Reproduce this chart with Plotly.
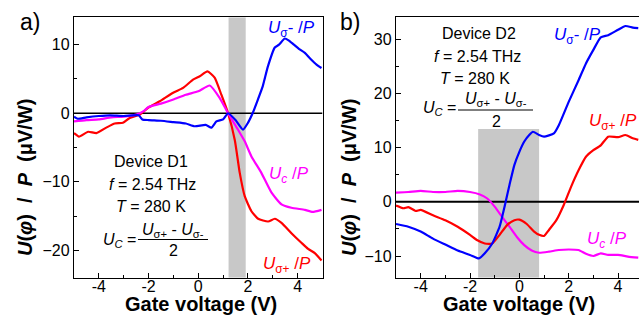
import plotly.graph_objects as go

# ---------------- data ----------------
# Panel a) Device D1
a_sm_x = [-5, -4.85, -4.5, -4.0, -3.55, -3.0, -2.4, -2.25, -2.0, -1.5, -1.0, -0.5, -0.14, 0.3, 0.53, 0.73, 1.0, 1.2, 1.5, 1.8, 2.0, 2.2, 2.4, 2.6, 2.8, 3.08, 3.25, 3.48, 3.65, 3.85, 4.05, 4.29, 4.5, 4.76, 4.96]
a_sm_y = [-0.5, -0.8, -0.6, -0.4, -0.3, -0.4, -0.3, -0.9, -1.0, -1.1, -1.3, -1.5, -1.9, -1.7, -2.1, -1.2, -0.9, 0.0, -1.0, -2.4, -1.4, 0.1, 2.0, 4.0, 6.8, 9.6, 10.0, 10.9, 10.6, 10.0, 9.4, 8.8, 8.0, 7.1, 6.6]

a_sp_x = [-5, -4.8, -4.43, -4.1, -3.7, -3.36, -3.03, -2.76, -2.35, -2.02, -1.55, -1.01, -0.61, -0.21, 0.06, 0.37, 0.66, 0.93, 1.2, 1.47, 1.67, 1.87, 2.14, 2.41, 2.81, 3.08, 3.35, 3.75, 4.15, 4.42, 4.69, 4.96]
a_sp_y = [-2.9, -3.4, -2.7, -2.9, -2.1, -1.5, -1.4, -0.7, -0.2, 0.8, 1.75, 3.0, 3.7, 4.9, 5.4, 6.1, 5.2, 2.7, 0.0, -3.9, -8.7, -12.1, -14.3, -15.4, -15.8, -15.4, -16.0, -17.5, -18.9, -19.8, -20.4, -21.5]

a_c_x = [-5, -4.5, -4, -3.5, -3, -2.5, -2.2, -2, -1.5, -1, -0.5, 0, 0.46, 0.86, 1.2, 1.6, 1.87, 2.14, 2.54, 2.95, 3.35, 3.75, 4.29, 4.6, 4.96]
a_c_y = [-1.2, -1.0, -0.9, -0.6, -0.5, -0.2, 0.3, 0.9, 1.4, 2.0, 2.7, 3.2, 4.05, 2.25, 0.0, -2.4, -4.1, -6.3, -8.7, -11.6, -13.3, -13.8, -14.1, -14.4, -14.1]

a_band = [1.22, 1.91]

# Panel b) Device D2
b_sm_x = [-5, -4.5, -4, -3.5, -3, -2.5, -2, -1.64, -1.4, -1.1, -0.8, -0.6, -0.4, -0.2, 0, 0.2, 0.4, 0.55, 0.8, 1.0, 1.4, 1.6, 2.0, 2.4, 2.7, 3.0, 3.3, 3.6, 4.0, 4.3, 4.6, 4.82]
b_sm_y = [-4.1, -4.6, -5.5, -6.8, -7.9, -9.0, -9.8, -10.45, -9.5, -7.7, -4.6, -0.9, 3.1, 6.8, 9.2, 11.1, 12.3, 12.9, 12.3, 12.0, 12.6, 14.1, 18.4, 22.4, 25.5, 28.0, 30.3, 30.7, 31.7, 32.4, 32.1, 32.0]

b_sp_x = [-5, -4.7, -4.5, -4.2, -4, -3.5, -3, -2.5, -2, -1.7, -1.4, -1.1, -0.8, -0.5, -0.2, 0, 0.3, 0.6, 0.8, 1.0, 1.2, 1.5, 1.8, 2.1, 2.4, 2.7, 3.0, 3.3, 3.6, 4.0, 4.3, 4.6, 4.82]
b_sp_y = [-0.7, -1.2, -1.0, -1.7, -1.5, -2.5, -3.4, -4.6, -6.1, -7.1, -7.7, -7.7, -6.1, -4.3, -3.4, -3.3, -4.1, -5.5, -6.1, -6.3, -5.2, -3.4, -0.6, 2.8, 5.8, 8.3, 9.5, 10.4, 12.0, 11.9, 12.3, 11.7, 11.4]

b_c_x = [-5, -4.5, -4, -3.5, -3, -2.5, -2, -1.6, -1.3, -1.0, -0.7, -0.4, -0.1, 0.2, 0.5, 0.8, 1.2, 1.6, 2.0, 2.4, 2.7, 3.0, 3.3, 3.6, 4.0, 4.4, 4.82]
b_c_y = [1.7, 1.8, 2.0, 1.8, 1.8, 2.0, 1.8, 1.35, 0.6, -0.9, -2.8, -4.6, -6.5, -8.0, -9.0, -9.4, -9.2, -8.9, -8.8, -8.9, -9.6, -10.0, -9.5, -9.8, -9.8, -10.1, -10.3]

b_band_x = [-1.67, 0.8]
b_band_top = 13.4

x_ticks = [-4, -2, 0, 2, 4]
x_tick_text = ["-4", "-2", "0", "2", "4"]
a_y_ticks = [-20, -10, 0, 10]
b_y_ticks = [-10, 0, 10, 20, 30]

# ---------------- figure ----------------
W, H = 639, 322
BLUE, RED, MAG = "#0000ff", "#ff0000", "#ff00ff"
FONT = "Liberation Sans, Arial, sans-serif"

def px(x):
    return x / W

def py(y):
    return 1 - y / H

fig = go.Figure()
lw = 2.2
for xs, ys, c in [(a_sp_x, a_sp_y, RED), (a_c_x, a_c_y, MAG), (a_sm_x, a_sm_y, BLUE)]:
    fig.add_trace(go.Scatter(x=xs, y=ys, mode="lines", line=dict(color=c, width=lw, shape="spline", smoothing=0.5),
                             xaxis="x", yaxis="y", showlegend=False))
for xs, ys, c in [(b_c_x, b_c_y, MAG), (b_sp_x, b_sp_y, RED), (b_sm_x, b_sm_y, BLUE)]:
    fig.add_trace(go.Scatter(x=xs, y=ys, mode="lines", line=dict(color=c, width=lw, shape="spline", smoothing=0.5),
                             xaxis="x2", yaxis="y2", showlegend=False))

ydom = [1 - 277.7 / H, 1 - 17.3 / H]
tickfont = dict(family=FONT, size=16, color="black")
axis_common = dict(showgrid=False, zeroline=False, showline=True, linecolor="black", linewidth=1.3,
                   ticks="inside", ticklen=5, tickwidth=1.2, tickcolor="black", tickfont=tickfont)
minor_x = dict(ticks="inside", dtick=1, ticklen=3, tickwidth=1.2, tickcolor="black")
minor_y = dict(ticks="inside", dtick=5, ticklen=3, tickwidth=1.2, tickcolor="black")
xdom_a = [px(74), px(322.5)]
xdom_b = [px(396), 1.0]
label_pos = py(274.5)   # free axes carrying the x tick labels, a bit closer to the plot

fig.update_layout(
    width=W, height=H, margin=dict(l=0, r=0, t=0, b=0),
    paper_bgcolor="white", plot_bgcolor="white",
    xaxis=dict(domain=xdom_a, range=[-5, 5], tickvals=x_ticks, showticklabels=False,
               mirror=True, minor=minor_x, anchor="y", **axis_common),
    yaxis=dict(domain=ydom, range=[-24, 14], tickvals=a_y_ticks, mirror=True, minor=minor_y,
               anchor="x", **axis_common),
    xaxis2=dict(domain=xdom_b, range=[-5, 4.85], tickvals=x_ticks, showticklabels=False,
                mirror=True, minor=minor_x, anchor="y2", **axis_common),
    yaxis2=dict(domain=ydom, range=[-14, 34], tickvals=b_y_ticks, mirror=False, minor=minor_y,
                anchor="x2", **axis_common),
    xaxis3=dict(domain=xdom_a, range=[-5, 5], tickvals=x_ticks, ticktext=x_tick_text, overlaying="x",
                anchor="free", position=label_pos, showline=False, ticks="", showgrid=False,
                zeroline=False, tickfont=tickfont),
    xaxis4=dict(domain=xdom_b, range=[-5, 4.85], tickvals=x_ticks, ticktext=x_tick_text, overlaying="x2",
                anchor="free", position=label_pos, showline=False, ticks="", showgrid=False,
                zeroline=False, tickfont=tickfont),
)
# invisible carriers so the label axes render
fig.add_trace(go.Scatter(x=[0], y=[0], mode="markers", marker=dict(opacity=0), xaxis="x3", yaxis="y",
                         showlegend=False, hoverinfo="skip"))
fig.add_trace(go.Scatter(x=[0], y=[0], mode="markers", marker=dict(opacity=0), xaxis="x4", yaxis="y2",
                         showlegend=False, hoverinfo="skip"))

shapes = [
    dict(type="rect", xref="x", yref="y", x0=a_band[0], x1=a_band[1], y0=-24, y1=14,
         fillcolor="#c8c8c8", line=dict(width=0), layer="below"),
    dict(type="rect", xref="x2", yref="y2", x0=b_band_x[0], x1=b_band_x[1], y0=-14, y1=b_band_top,
         fillcolor="#c8c8c8", line=dict(width=0), layer="below"),
    dict(type="line", xref="x", yref="y", x0=-5, x1=5, y0=0, y1=0, line=dict(color="black", width=1.3), layer="below"),
    dict(type="line", xref="x2", yref="y2", x0=-5, x1=4.85, y0=0, y1=0, line=dict(color="black", width=2), layer="below"),
    # fraction bars
    dict(type="line", xref="paper", yref="paper", x0=px(138), x1=px(208), y0=py(239.5), y1=py(239.5),
         line=dict(color="black", width=1)),
    dict(type="line", xref="paper", yref="paper", x0=px(458), x1=px(533), y0=py(110), y1=py(110),
         line=dict(color="black", width=1)),
]
fig.update_layout(shapes=shapes)

ann = []

def txt(x, y, t, size=16, color="black", xanchor="center"):
    ann.append(dict(xref="paper", yref="paper", x=px(x), y=py(y), text=t, showarrow=False,
                    xanchor=xanchor, yanchor="middle",
                    font=dict(family=FONT, size=size, color=color)))

# panel labels
txt(30, 22, "a)", size=23)
txt(350, 22, "b)", size=23)
# axis titles
xt = "<b>Gate voltage (V)</b>"
txt(201, 304, xt, size=20)
txt(519, 304, xt, size=20)
yt = "<b><i>U</i>(<i>φ</i>)  /  <i>P</i>  (μV/W)</b>"
for xx in [25, 349]:
    ann.append(dict(xref="paper", yref="paper", x=px(xx), y=py(178), text=yt, showarrow=False,
                    textangle=-90, xanchor="center", yanchor="middle",
                    font=dict(family=FONT, size=20, color="black")))

num = "<i>U</i><sub>σ+</sub> - <i>U</i><sub>σ-</sub>"
# panel a text block
txt(151, 162, "Device D1")
txt(152, 184, "<i>f</i> = 2.54 THz")
txt(151, 206, "<i>T</i> = 280 K")
txt(138, 240, "<i>U<sub>C</sub></i> =", xanchor="right")
txt(173, 230, num)
txt(173, 250, "2")
# panel b text block
txt(479, 33, "Device D2")
txt(477, 56, "<i>f</i> = 2.54 THz")
txt(475, 78, "<i>T</i> = 280 K")
txt(458, 109, "<i>U<sub>C</sub></i> =", xanchor="right")
txt(496, 100, num)
txt(496, 122, "2")

# curve labels
txt(291, 29, "<i>U</i><sub>σ</sub>- /<i>P</i>", size=17, color=BLUE)
txt(289, 175, "<i>U<sub>c</sub></i> /<i>P</i>", size=17, color=MAG)
txt(287, 265, "<i>U</i><sub>σ+</sub> /<i>P</i>", size=17, color=RED)
txt(577, 36, "<i>U</i><sub>σ</sub>- /<i>P</i>", size=17, color=BLUE)
txt(639, 122, "<i>U</i><sub>σ+</sub> /<i>P</i>", size=17, color=RED, xanchor="right")
txt(607, 240, "<i>U<sub>c</sub></i> /<i>P</i>", size=17, color=MAG)

fig.update_layout(annotations=ann)
fig.write_html("out.html")
